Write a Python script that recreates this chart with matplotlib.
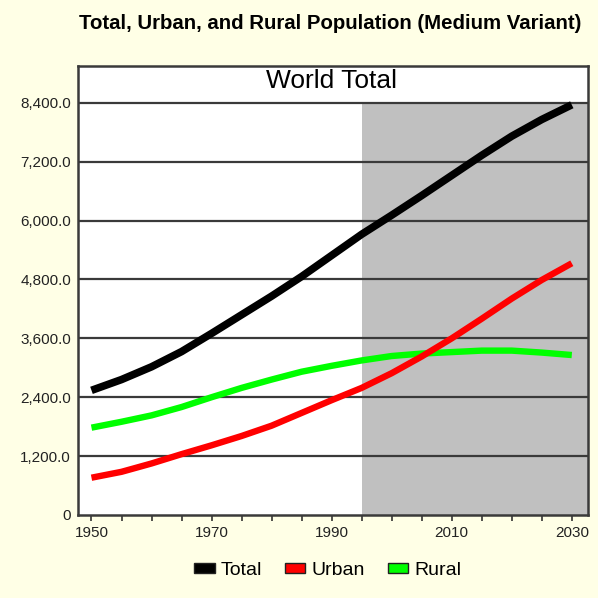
import numpy as np
from matplotlib import pyplot as plt
from matplotlib.patches import Patch

#data (millions)
years = [1950, 1955, 1960, 1965, 1970, 1975, 1980, 1985, 1990,
         1995, 2000, 2005, 2010, 2015, 2020, 2025, 2030]
total = [2540, 2760, 3020, 3330, 3700, 4080, 4460, 4860, 5290,
         5720, 6110, 6510, 6920, 7330, 7720, 8060, 8360]
urban = [760, 880, 1050, 1240, 1420, 1610, 1820, 2080, 2340,
         2590, 2890, 3230, 3600, 4000, 4410, 4790, 5130]
rural = [1780, 1900, 2030, 2200, 2400, 2590, 2760, 2920, 3040,
         3150, 3240, 3290, 3320, 3350, 3350, 3310, 3260]
y_ticks = [0, 1200, 2400, 3600, 4800, 6000, 7200, 8400]
y_labels = ["0", "1,200.0", "2,400.0", "3,600.0", "4,800.0", "6,000.0", "7,200.0", "8,400.0"]
x_ticks = [1950, 1970, 1990, 2010, 2030]
proj_start = 1995

bg = "#FFFFE6"
plt.rcParams['font.family'] = ['Liberation Sans', 'DejaVu Sans']
fig = plt.figure(figsize=(5.98, 5.98), dpi=100, facecolor=bg)
ax = fig.add_axes([0.1304, 0.1388, 0.8529, 0.7508])
ax.set_facecolor("white")

xmin, xmax = 1947.75, 2032.7
ax.set_xlim(xmin, xmax)
ax.set_ylim(0, 9150)

#projection shading
ax.fill_between([proj_start, xmax], 0, y_ticks[-1], color="#C0C0C0", lw=0, zorder=1)

for y in y_ticks[1:]:
    ax.axhline(y, color="#3a3a3a", lw=1.6, zorder=2)

ax.plot(years, total, color="black", lw=5.5, solid_capstyle="butt", zorder=4)
ax.plot(years, urban, color="#FF0000", lw=4.6, solid_capstyle="butt", zorder=4)
ax.plot(years, rural, color="#00FF00", lw=4.6, solid_capstyle="butt", zorder=3)

ax.set_yticks(y_ticks)
ax.set_yticklabels(y_labels, fontsize=11, color="#222222")
ax.set_xticks(x_ticks)
ax.set_xticklabels([str(x) for x in x_ticks], fontsize=11, color="#222222")
ax.set_xticks(np.arange(1955, 2031, 5), minor=True)
ax.tick_params(axis='y', length=0, pad=5)
ax.tick_params(axis='x', which='both', length=4, width=1.2, color="#333333", pad=4)

for s in ax.spines.values():
    s.set_color("#3a3a3a")
    s.set_linewidth(1.8)

ax.text(0.497, 0.967, "World Total", transform=ax.transAxes, ha="center", va="center",
        fontsize=19)
fig.text(0.552, 0.961, "Total, Urban, and Rural Population (Medium Variant)",
         ha="center", va="center", fontsize=14.7, fontweight="bold")

handles = [Patch(facecolor="black", edgecolor="#222222", label="Total"),
           Patch(facecolor="#FF0000", edgecolor="#222222", label="Urban"),
           Patch(facecolor="#00FF00", edgecolor="#222222", label="Rural")]
fig.legend(handles=handles, loc="center", bbox_to_anchor=(0.548, 0.046), ncol=3,
           frameon=False, fontsize=14, handlelength=1.05, handleheight=0.36,
           handletextpad=0.3, columnspacing=1.2)

plt.savefig("out.png", dpi=100, facecolor=bg)
plt.close()
